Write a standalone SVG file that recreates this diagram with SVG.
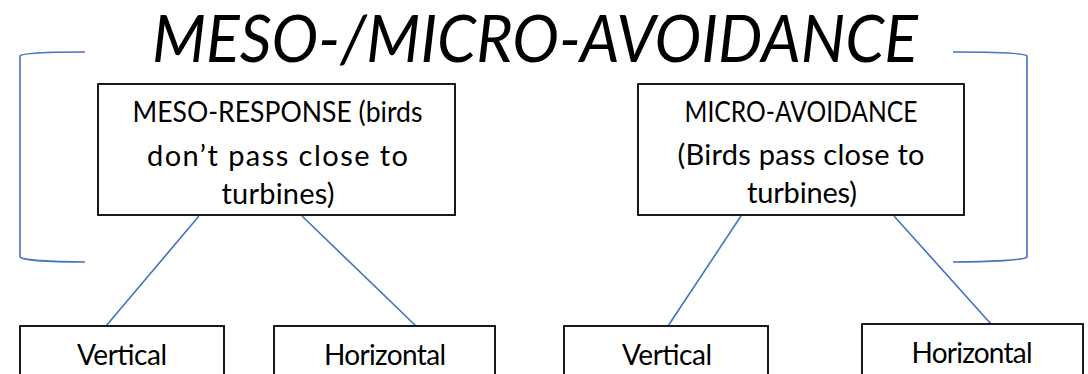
<svg xmlns="http://www.w3.org/2000/svg" width="1088" height="374" viewBox="0 0 1088 374">
<style>
.box{fill:#fff;stroke:#000;stroke-width:1.8}
.t{font-family:Lato,"Open Sans","Liberation Sans",sans-serif;font-size:28px;fill:#000;text-anchor:middle}
.t2{font-size:29px}
.title{font-family:Lato,"Open Sans","Liberation Sans",sans-serif;font-size:66px;font-style:italic;fill:#000;text-anchor:middle}
.c{fill:none;stroke:#4472C4;stroke-width:1.6}
</style>
<rect width="1088" height="374" fill="#fff"/>
<g id="title"><text class="title" x="535" y="62" textLength="766" lengthAdjust="spacingAndGlyphs">MESO-/MICRO-AVOIDANCE</text></g>
<g id="connectors">
<path class="c" d="M85,52 C50,52 22,53 20,56 V257 C22,260 50,262 85,262"/>
<path class="c" d="M953,52 C990,52 1025,53 1027,56 V257 C1025,260 990,262 953,262"/>
<line class="c" x1="199" y1="216" x2="106" y2="326"/>
<line class="c" x1="302" y1="216" x2="416" y2="326"/>
<line class="c" x1="741" y1="216" x2="668" y2="326"/>
<line class="c" x1="894" y1="216" x2="991" y2="324"/>
</g>
<g id="meso-response">
<rect class="box" x="98" y="84" width="357" height="131"/>
<text class="t t2" x="277.5" y="122" textLength="290" lengthAdjust="spacingAndGlyphs">MESO-RESPONSE (birds</text>
<text class="t t2" x="277.5" y="166" textLength="261" lengthAdjust="spacing">don’t pass close to</text>
<text class="t t2" x="278" y="204" textLength="113" lengthAdjust="spacing">turbines)</text>
</g>
<g id="micro-avoidance">
<rect class="box" x="638" y="84" width="326" height="131"/>
<text class="t t2" x="801" y="122" textLength="233" lengthAdjust="spacingAndGlyphs">MICRO-AVOIDANCE</text>
<text class="t t2" x="801" y="165" textLength="247" lengthAdjust="spacing">(Birds pass close to</text>
<text class="t t2" x="802" y="203" textLength="110" lengthAdjust="spacing">turbines)</text>
</g>
<g id="meso-vertical">
<rect class="box" x="20" y="326" width="204" height="60"/>
<text class="t" x="122" y="365" textLength="90" lengthAdjust="spacing">Vertical</text>
</g>
<g id="meso-horizontal">
<rect class="box" x="274" y="326" width="221" height="60"/>
<text class="t" x="385" y="365" textLength="122" lengthAdjust="spacing">Horizontal</text>
</g>
<g id="micro-vertical">
<rect class="box" x="564" y="326" width="204" height="60"/>
<text class="t" x="667" y="365" textLength="90" lengthAdjust="spacing">Vertical</text>
</g>
<g id="micro-horizontal">
<rect class="box" x="862" y="324" width="221" height="60"/>
<text class="t" x="972" y="363" textLength="121" lengthAdjust="spacing">Horizontal</text>
</g>
</svg>
